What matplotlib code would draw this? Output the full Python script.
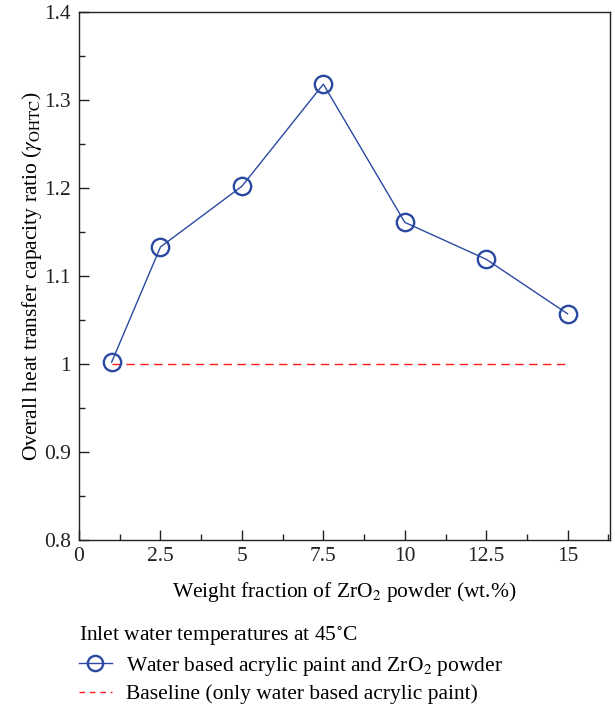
import matplotlib.pyplot as plt
from matplotlib.lines import Line2D
from matplotlib.ticker import MultipleLocator, FuncFormatter

plt.rcParams['font.family'] = ['Liberation Serif', 'DejaVu Serif']
plt.rcParams['mathtext.fontset'] = 'stix'

# ---- data ---------------------------------------------------------------
wt_fraction = [1, 2.5, 5, 7.5, 10, 12.5, 15]
ohtc_ratio = [1.002, 1.133, 1.202, 1.318, 1.161, 1.119, 1.057]
baseline_x = [1, 15]
baseline_y = [1.0, 1.0]

x_ticks = [0, 2.5, 5, 7.5, 10, 12.5, 15]
x_tick_labels = ['0', '2.5', '5', '7.5', '10', '12.5', '15']

BLUE = '#2a4aa2'
RED = '#ff1a1a'
FS = 15.5

fig = plt.figure(figsize=(6.15, 7.1), dpi=100)
ax = fig.add_axes([0.1285, 0.2394, 0.8634, 0.7437])

ax.plot(wt_fraction, ohtc_ratio, color=BLUE, lw=1.0, marker='o', ms=12.5,
        mfc='none', mec=BLUE, mew=1.7, zorder=3)
ax.plot(baseline_x, baseline_y, color=RED, lw=1.0, ls=(0, (6, 4)), zorder=2)

ax.set_xlim(0, 16.3)
ax.set_ylim(0.8, 1.4)
ax.set_xticks(x_ticks)
ax.set_xticklabels(x_tick_labels)
ax.xaxis.set_minor_locator(MultipleLocator(1.25))
ax.yaxis.set_major_locator(MultipleLocator(0.1))
ax.yaxis.set_minor_locator(MultipleLocator(0.05))
ax.yaxis.set_major_formatter(FuncFormatter(lambda v, _: f'{v:g}'))

ax.tick_params(which='both', direction='in', top=False, right=False,
               labelsize=FS, colors='#222222')
ax.tick_params(which='major', length=7, width=1.0)
ax.tick_params(which='minor', length=4, width=1.0)
ax.tick_params(axis='x', pad=5)
ax.tick_params(axis='y', pad=6)
for s in ax.spines.values():
    s.set_linewidth(1.0)
    s.set_color('#222222')

ax.set_xlabel('Weight fraction of ZrO$_2$ powder (wt.%)', fontsize=FS, labelpad=10)
ax.set_ylabel(r'Overall heat transfer capacity ratio ($\gamma_{\rm OHTC}$)',
              fontsize=FS, labelpad=0)

handles = [
    Line2D([], [], color=BLUE, lw=1.0, marker='o', ms=11.0, mfc='none',
           mec=BLUE, mew=1.7),
    Line2D([], [], color=RED, lw=1.0, ls=(0, (4, 3.5))),
]
labels = ['Water based acrylic paint and ZrO$_2$ powder',
          'Baseline (only water based acrylic paint)']
leg = fig.legend(handles, labels, loc='upper left',
                 bbox_to_anchor=(0.128, 0.120), frameon=False,
                 title='Inlet water temperatures at 45$^{\\circ}$C',
                 title_fontsize=FS, fontsize=FS, alignment='left',
                 handlelength=1.55, handletextpad=0.65, labelspacing=0.3,
                 borderaxespad=0, borderpad=0)

fig.savefig('out.png', dpi=100)
